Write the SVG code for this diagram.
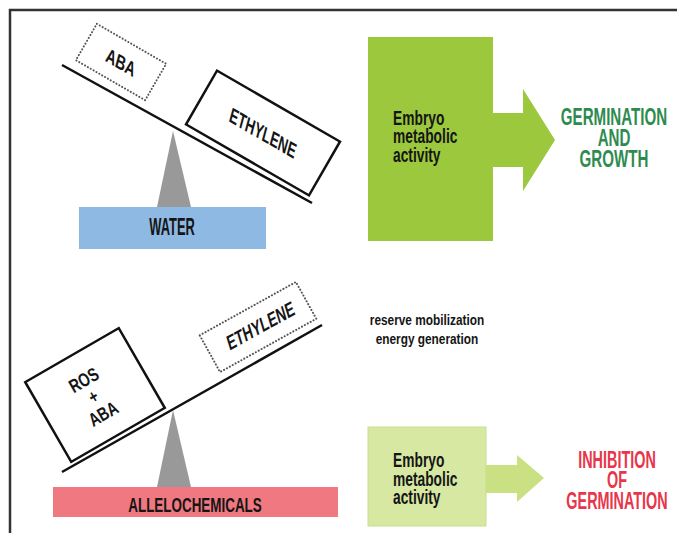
<svg xmlns="http://www.w3.org/2000/svg" width="677" height="533" viewBox="0 0 677 533">
<style>
.t{font-family:"Liberation Sans",Arial,sans-serif;font-weight:bold;fill:#151515;}
.g{fill:#2e8b4f;}
.r{fill:#e8364a;}
.beam{stroke:#111;stroke-width:2.5;fill:none;}
.box{stroke:#111;stroke-width:2.5;fill:#fff;}
.dot{stroke:#555;stroke-width:2;fill:#fff;stroke-dasharray:0.1 3.2;stroke-linecap:round;}
.tri{fill:#999;}
</style>
<rect width="677" height="533" fill="#fff"/>
<path d="M10,533 V10 H677" fill="none" stroke="#333" stroke-width="2.5"/>

<g id="connectors">
<line class="beam" x1="62" y1="65" x2="312" y2="203"/>
<line class="beam" x1="62" y1="472" x2="322" y2="325"/>
<polygon class="tri" points="173,131 157,207 191,207"/>
<polygon class="tri" points="173,410 157,487 191,487"/>
<polygon id="arrow-top" points="492,113 523,113 523,89 555,140 523,191 523,167 492,167" fill="#9bc83c"/>
<polygon id="arrow-bottom" points="485,465 517,465 517,455 544,478 517,502 517,493 485,493" fill="#c9e083"/>
</g>

<g id="aba-top" transform="translate(121,62) rotate(30)">
<rect class="dot" x="-40" y="-21" width="80" height="42"/>
<g transform="skewX(15) scale(0.8,1)"><text class="t" x="0" y="7" font-size="19" text-anchor="middle">ABA</text></g>
</g>

<g id="ethylene-top" transform="translate(263,133) rotate(30)">
<rect class="box" x="-71" y="-31" width="142" height="62"/>
<g transform="skewX(15) scale(0.71,1)"><text class="t" x="0" y="7" font-size="20" text-anchor="middle">ETHYLENE</text></g>
</g>

<g id="water">
<rect x="79" y="207" width="187" height="42" fill="#8db9e2"/>
<g transform="translate(172,235) scale(0.56,1)"><text class="t" x="0" y="0" font-size="23" text-anchor="middle">WATER</text></g>
</g>

<g id="embryo-top">
<rect x="368" y="37" width="125" height="204" fill="#9bc83c"/>
<g transform="translate(393,0) scale(0.69,1)">
<text class="t" x="0" y="125" font-size="20">Embryo</text>
<text class="t" x="0" y="143.5" font-size="20">metabolic</text>
<text class="t" x="0" y="162" font-size="20">activity</text>
</g>
</g>

<g id="germination-growth">
<g transform="translate(614,0) scale(0.63,1)">
<text class="t g" x="0" y="125" font-size="24" text-anchor="middle">GERMINATION</text>
<text class="t g" x="0" y="146" font-size="24" text-anchor="middle">AND</text>
<text class="t g" x="0" y="167" font-size="24" text-anchor="middle">GROWTH</text>
</g>
</g>

<g id="reserve">
<g transform="translate(427,0) scale(0.79,1)">
<text class="t" x="0" y="325" font-size="15" text-anchor="middle">reserve mobilization</text>
<text class="t" x="0" y="344" font-size="15" text-anchor="middle">energy generation</text>
</g>
</g>

<g id="ethylene-bottom" transform="translate(258,327) rotate(-29)">
<rect class="dot" x="-55" y="-21" width="110" height="42"/>
<g transform="skewX(-12) scale(0.71,1)"><text class="t" x="4" y="7" font-size="20" text-anchor="middle">ETHYLENE</text></g>
</g>

<g id="ros-aba" transform="translate(95,395) rotate(-30)">
<rect class="box" x="-54" y="-46" width="108" height="92"/>
<g transform="scale(0.75,1)">
<text class="t" x="-3" y="-12" font-size="19" text-anchor="middle">ROS</text>
<text class="t" x="-3" y="7" font-size="19" text-anchor="middle">+</text>
<text class="t" x="-3" y="27" font-size="19" text-anchor="middle">ABA</text>
</g>
</g>

<g id="allelochemicals">
<rect x="53" y="487" width="285" height="30" fill="#f07880"/>
<g transform="translate(195,512) scale(0.64,1)"><text class="t" x="0" y="0" font-size="21" text-anchor="middle">ALLELOCHEMICALS</text></g>
</g>

<g id="embryo-bottom">
<rect x="368" y="427" width="118" height="99" fill="#d6e8a2" stroke="#c8df8a" stroke-width="1"/>
<g transform="translate(393,0) scale(0.69,1)">
<text class="t" x="0" y="467" font-size="20">Embryo</text>
<text class="t" x="0" y="486" font-size="20">metabolic</text>
<text class="t" x="0" y="504.5" font-size="20">activity</text>
</g>
</g>

<g id="inhibition">
<g transform="translate(617,0) scale(0.6,1)">
<text class="t r" x="0" y="468" font-size="24" text-anchor="middle">INHIBITION</text>
<text class="t r" x="0" y="488.5" font-size="24" text-anchor="middle">OF</text>
<text class="t r" x="0" y="509" font-size="24" text-anchor="middle">GERMINATION</text>
</g>
</g>
</svg>
